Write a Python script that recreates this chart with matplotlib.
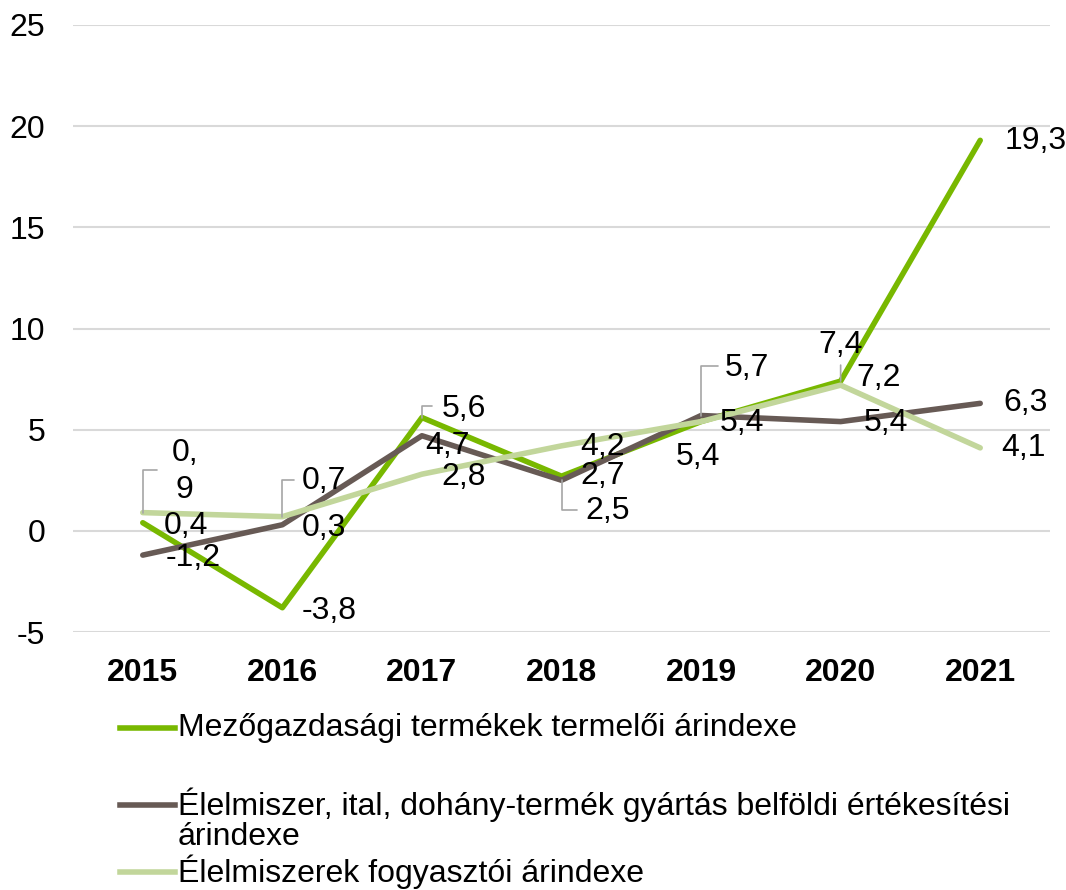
import numpy as np
import matplotlib
matplotlib.use("Agg")
import matplotlib.pyplot as plt
from matplotlib.lines import Line2D

plt.rcParams['font.family'] = ['Liberation Sans', 'DejaVu Sans']
plt.rcParams['axes.unicode_minus'] = False

years = ["2015", "2016", "2017", "2018", "2019", "2020", "2021"]
mezo = [0.4, -3.8, 5.6, 2.7, 5.4, 7.4, 19.3]
elelm_gyart = [-1.2, 0.3, 4.7, 2.5, 5.7, 5.4, 6.3]
elelm_fogy = [0.9, 0.7, 2.8, 4.2, 5.4, 7.2, 4.1]

names = ["Mezőgazdasági termékek termelői árindexe",
         "Élelmiszer, ital, dohány-termék gyártás belföldi értékesítési\nárindexe",
         "Élelmiszerek fogyasztói árindexe"]
colors = ["#78B800", "#675A55", "#C2D69B"]

# label offsets in pixels (dx, dy) of text centre from the point, plus leader end (or None)
label_pos = [
    [(43, -3, None), (47, -3, None), (42, 9, (10, 12)), (41, 0, None),
     (41, -1, None), (0, 36, (0, 16)), (55, -1, None)],
    [(50, -3, None), (42, -3, None), (26, -10, None), (46, -31, (15, -30)),
     (46, 48, (17, 50)), (45, -1, None), (45, 0, None)],
    [(42, 41, (14, 43)), (42, 36, (12, 37)), (42, -3, None), (41, -1, None),
     (-3, -35, None), (38, 7, None), (43, 0, None)],
]
wrapped = {(2, 0): "0,\n9"}
fs = 23

fig = plt.figure(figsize=(10.66, 8.9), dpi=100)
ax = fig.add_axes([73/1066, (890-632)/890, (1050-73)/1066, (632-25)/890])

x = np.arange(len(years))
series = [mezo, elelm_gyart, elelm_fogy]
for s, vals in enumerate(series):
    ax.plot(x, vals, color=colors[s], lw=4.0, solid_capstyle='round',
            solid_joinstyle='round', zorder=3 + s)

for s, vals in enumerate(series):
    for i, v in enumerate(vals):
        dx, dy, lead = label_pos[s][i]
        txt = wrapped.get((s, i), f"{v:.1f}".replace('.', ','))
        ax.annotate(txt, (x[i], v), xytext=(dx, dy), textcoords='offset pixels',
                    ha='center', va='center', fontsize=fs, zorder=10,
                    linespacing=1.3)
        if lead is not None:
            cs = 'arc3' if lead[0] == 0 else 'angle,angleA=0,angleB=90,rad=0'
            ax.annotate('', (x[i], v), xytext=lead, textcoords='offset pixels',
                        arrowprops=dict(arrowstyle='-', color='#A6A6A6', lw=1.2,
                                        shrinkA=0, shrinkB=0, connectionstyle=cs),
                        zorder=9)

ax.set_xlim(-0.5, len(years) - 0.5)
ax.set_ylim(-5, 25)
ax.set_yticks(np.arange(-5, 26, 5))
ax.set_xticks(x)
ax.set_xticklabels(years, fontsize=fs, fontweight='bold')
ax.tick_params(axis='y', labelsize=fs, length=0, pad=20)
ax.tick_params(axis='x', length=0, pad=19)
ax.grid(axis='y', color='#D9D9D9', lw=1.5)
ax.set_axisbelow(True)
for sp in ax.spines.values():
    sp.set_visible(False)

# legend drawn by hand to keep the irregular spacing of the original
leg_y = [728, 820, 872]
line_y = [728, 805, 872]
for k in range(3):
    fig.add_artist(Line2D([120/1066, 175/1066], [1 - line_y[k]/890] * 2,
                          color=colors[k], lw=4.0, transform=fig.transFigure))
    fig.text(178/1066, 1 - leg_y[k]/890, names[k], fontsize=fs, va='center',
             ha='left', linespacing=1.0)

fig.savefig("out.png", dpi=100)
